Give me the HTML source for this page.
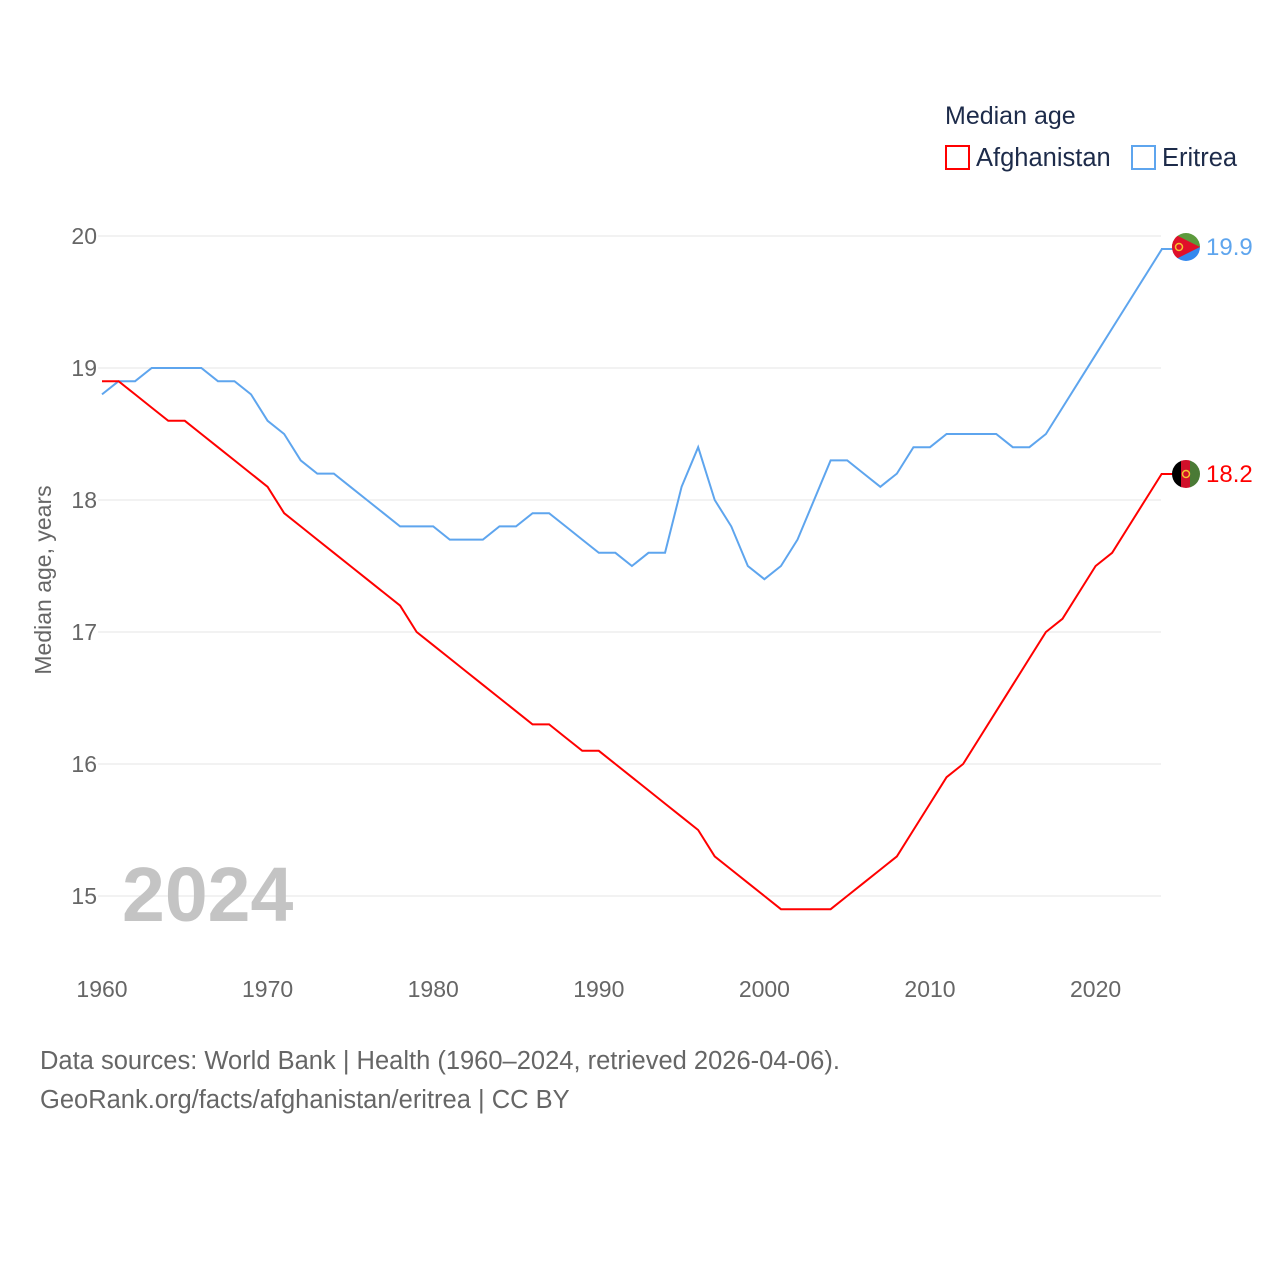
<!DOCTYPE html>
<html><head><meta charset="utf-8"><style>
body{margin:0;background:#fff;font-family:"Liberation Sans",sans-serif;}
svg text{font-family:"Liberation Sans",sans-serif;}
</style></head><body>
<svg id="chart" width="1280" height="1280" viewBox="0 0 1280 1280">
<text x="945" y="124" font-size="25" fill="#1d2b4a">Median age</text>
<g><rect x="946" y="146" width="23" height="23" fill="none" stroke="#f00" stroke-width="2"/><text x="976" y="166" font-size="25.5" fill="#1d2b4a">Afghanistan</text></g>
<g><rect x="1132" y="146" width="23" height="23" fill="none" stroke="#5ea5ee" stroke-width="2"/><text x="1162" y="166" font-size="25.5" fill="#1d2b4a">Eritrea</text></g>
<g id="grid"></g>
<text x="122" y="921" font-size="77" font-weight="bold" fill="#c4c4c4">2024</text>
<text transform="translate(51,580) rotate(-90)" text-anchor="middle" font-size="23" fill="#666">Median age, years</text>
<g id="series"></g>
<line x1="1161" y1="249" x2="1174" y2="249" stroke="#5ea5ee" stroke-width="2"/>
<line x1="1161" y1="474" x2="1174" y2="474" stroke="#f00" stroke-width="2"/>
<defs>
<clipPath id="c1"><circle cx="1186" cy="247" r="14"/></clipPath>
<clipPath id="c2"><circle cx="1186" cy="474" r="14"/></clipPath>
</defs>
<g clip-path="url(#c1)">
<polygon points="1172,233 1200,233 1200,247 1172,247" fill="#5c9a3c"/><polygon points="1172,247 1200,247 1200,261 1172,261" fill="#3388ee"/><polygon points="1172,233 1200,247 1172,261" fill="#e0102a"/><circle cx="1179" cy="247" r="3.5" fill="none" stroke="#f4c430" stroke-width="1.5"/></g>
<g clip-path="url(#c2)">
<rect x="1172" y="460" width="10" height="28" fill="#000"/><rect x="1181" y="460" width="10" height="28" fill="#d0102a"/><rect x="1190" y="460" width="10" height="28" fill="#4a7a35"/><circle cx="1186" cy="474" r="3.5" fill="none" stroke="#f4c430" stroke-width="1.5"/></g>
<text x="1206" y="255" font-size="24" fill="#5ea5ee">19.9</text>
<text x="1206" y="482" font-size="24" fill="#f00">18.2</text>
<text x="40" y="1069" font-size="25.5" fill="#666">Data sources: World Bank | Health (1960–2024, retrieved 2026-04-06).</text>
<text x="40" y="1108" font-size="25.5" fill="#666">GeoRank.org/facts/afghanistan/eritrea | CC BY</text>
</svg>
<script>
const years=[];for(let y=1960;y<=2024;y++)years.push(y);
const afghanistan=[18.9,18.9,18.8,18.7,18.6,18.6,18.5,18.4,18.3,18.2,18.1,17.9,17.8,17.7,17.6,17.5,17.4,17.3,17.2,17.0,16.9,16.8,16.7,16.6,16.5,16.4,16.3,16.3,16.2,16.1,16.1,16.0,15.9,15.8,15.7,15.6,15.5,15.3,15.2,15.1,15.0,14.9,14.9,14.9,14.9,15.0,15.1,15.2,15.3,15.5,15.7,15.9,16.0,16.2,16.4,16.6,16.8,17.0,17.1,17.3,17.5,17.6,17.8,18.0,18.2];
const eritrea=[18.8,18.9,18.9,19.0,19.0,19.0,19.0,18.9,18.9,18.8,18.6,18.5,18.3,18.2,18.2,18.1,18.0,17.9,17.8,17.8,17.8,17.7,17.7,17.7,17.8,17.8,17.9,17.9,17.8,17.7,17.6,17.6,17.5,17.6,17.6,18.1,18.4,18.0,17.8,17.5,17.4,17.5,17.7,18.0,18.3,18.3,18.2,18.1,18.2,18.4,18.4,18.5,18.5,18.5,18.5,18.4,18.4,18.5,18.7,18.9,19.1,19.3,19.5,19.7,19.9];
const yTicks=[15,16,17,18,19,20];
const xTicks=[1960,1970,1980,1990,2000,2010,2020];
const NS='http://www.w3.org/2000/svg';
const xS=y=>102+(y-1960)*16.56;
const yS=v=>236+(20-v)*132;
const grid=document.getElementById('grid');
yTicks.forEach(t=>{
 const l=document.createElementNS(NS,'line');
 l.setAttribute('x1',98);l.setAttribute('x2',1161);l.setAttribute('y1',yS(t));l.setAttribute('y2',yS(t));
 l.setAttribute('stroke','#e6e6e6');
 
 
 grid.appendChild(l);
 const tx=document.createElementNS(NS,'text');
 tx.setAttribute('x',97);tx.setAttribute('y',yS(t)+8);tx.setAttribute('text-anchor','end');
 tx.setAttribute('font-size','23');tx.setAttribute('fill','#666');tx.textContent=t;
 
 
 grid.appendChild(tx);
});
xTicks.forEach(t=>{
 const tx=document.createElementNS(NS,'text');
 tx.setAttribute('x',xS(t));tx.setAttribute('y',997);tx.setAttribute('text-anchor','middle');
 tx.setAttribute('font-size','23');tx.setAttribute('fill','#666');tx.textContent=t;
 
 
 grid.appendChild(tx);
});
const ser=document.getElementById('series');
[[eritrea,'#5ea5ee','eritrea-line'],[afghanistan,'#f00','afghanistan-line']].forEach(([d,c,n])=>{
 const p=document.createElementNS(NS,'polyline');
 p.setAttribute('points',d.map((v,i)=>xS(years[i])+','+yS(v)).join(' '));
 p.setAttribute('fill','none');p.setAttribute('stroke',c);p.setAttribute('stroke-width','2');
 
 
 ser.appendChild(p);
});
</script>
</body></html>
